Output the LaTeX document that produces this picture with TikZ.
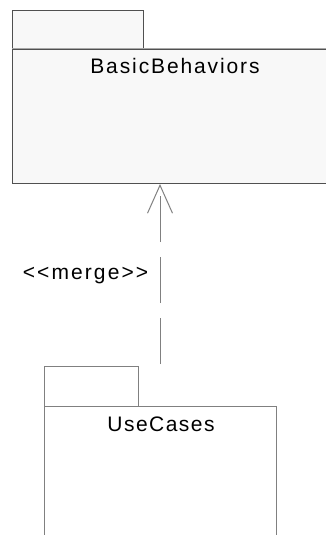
\documentclass[tikz,border=0pt]{standalone}
\usepackage{fontspec}
\setmainfont{Liberation Sans}
\usetikzlibrary{arrows.meta}
\definecolor{edgedark}{HTML}{505050}
\definecolor{edgemid}{HTML}{808080}
\definecolor{sepline}{HTML}{A8A8A8}
\definecolor{pkgfill}{HTML}{F8F8F8}
\tikzset{
  pkgtop/.style={draw=edgedark, fill=pkgfill, line width=1pt},
  pkgbot/.style={draw=edgemid, fill=white, line width=1pt},
  pkglabel/.style={anchor=base, inner sep=0pt, font=\fontsize{21}{25}\selectfont},
  mergeline/.style={draw=edgemid, line width=1pt, dash pattern=on 46pt off 15pt,
     -{Straight Barb[length=28pt,width=25pt,line width=1pt]}},
}
\begin{document}
\begin{tikzpicture}[x=1pt,y=-1pt]
\useasboundingbox (0,0) rectangle (326,535);
\clip (0,0) rectangle (326,535);
% BasicBehaviors package
\node[pkgtop, minimum width=131pt, minimum height=39pt, inner sep=0pt, anchor=north west] (bbtab) at (12,10) {};
\node[pkgtop, minimum width=320pt, minimum height=134pt, inner sep=0pt, anchor=north west] (bb) at (12,49) {};
\draw[sepline, line width=1pt] (bb.north west) -- (bb.north east);
\node[pkglabel] (bblabel) at (175,74) {\addfontfeatures{LetterSpace=9}BasicBehaviors};
% UseCases package
\node[pkgbot, minimum width=94pt, minimum height=40pt, inner sep=0pt, anchor=north west] (uctab) at (44,366) {};
\node[pkgbot, minimum width=232pt, minimum height=140pt, inner sep=0pt, anchor=north west] (uc) at (44,406) {};
\node[pkglabel] (uclabel) at (161,431.5) {\addfontfeatures{LetterSpace=7}UseCases};
% merge dependency
\coordinate (mergeend) at (160,364);
\draw[mergeline] (mergeend) -- (bb.south -| mergeend);
\node[pkglabel] (mergelabel) at (85.5,279) {\addfontfeatures{LetterSpace=10,Ligatures=NoCommon}<{}<merge>{}>};
\end{tikzpicture}
\end{document}
